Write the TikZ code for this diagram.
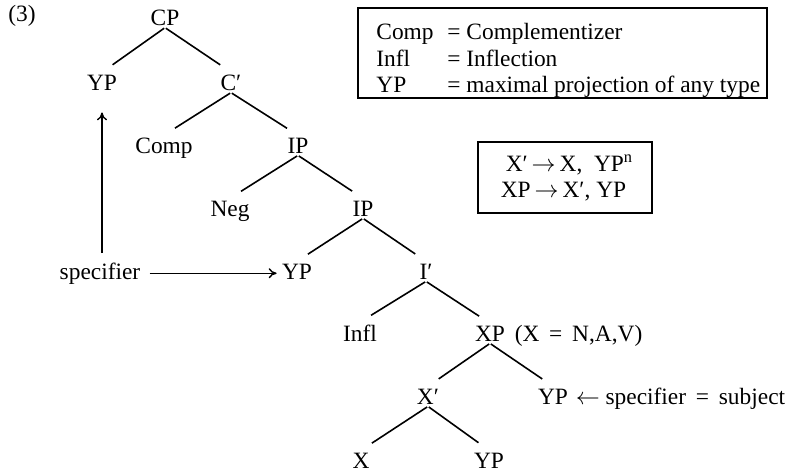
\documentclass[tikz,border=0pt]{standalone}
\usepackage{fontspec}
\setmainfont{Liberation Serif}
\usetikzlibrary{arrows.meta,positioning}

\begin{document}
\begin{tikzpicture}[x=0.5pt, y=-0.5pt,
    every node/.style={font=\fontsize{11.7}{13.25}\selectfont, inner sep=1pt},
    cat/.style={anchor=base},
    branch/.style={line width=0.8pt, shorten <=0.5pt, shorten >=6.5pt},
    pointer/.style={line width=0.7pt, -{To[length=4pt,width=5pt]}},
    rulebox/.style={draw, line width=0.6pt}]
  \useasboundingbox (0,0) rectangle (787,472);

  \node[anchor=base west] (exnum) at (6,21) {(3)};

  % the tree
  \node[cat] (cp)     at (165,25)  {CP};
  \node[cat] (ypcp)   at (102,90)  {YP};
  \node[cat] (cbar)   at (231,90)  {C′};
  \node[cat] (comp)   at (164,153) {Comp};
  \node[cat] (ipneg)  at (298,153) {IP};
  \node[cat] (neg)    at (230,216) {Neg};
  \node[cat] (ip)     at (363,216) {IP};
  \node[cat] (ypip)   at (297,279) {YP};
  \node[cat] (ibar)   at (426,279) {I′};
  \node[cat] (infl)   at (360,341) {Infl};
  \node[cat] (xp)     at (490,341) {XP};
  \node[cat] (xbar)   at (428,404) {X′};
  \node[cat] (ypxp)   at (553,404) {YP};
  \node[cat] (x)      at (361,468) {X};
  \node[cat] (ypcomp) at (489,468) {YP};

  \node[anchor=base west] (xpnote) at ([xshift=2.5pt]xp.base east) {(X\,~=~\,N,A,V)};
  \node[anchor=base west] (subjnote) at ([xshift=1.5pt]ypxp.base east) {$\leftarrow$ specifier\,~=~\,subject};

  \foreach \a/\b in {cp/ypcp, cp/cbar, cbar/comp, cbar/ipneg, ipneg/neg, ipneg/ip,
                     ip/ypip, ip/ibar, ibar/infl, ibar/xp, xp/xbar, xp/ypxp,
                     xbar/x, xbar/ypcomp} {
    \draw[branch] (\a.south) -- (\b.north);
  }

  % specifier arrows
  \node[cat] (spec) at (100,279) {specifier};
  \draw[pointer, shorten <=3.5pt, shorten >=10pt] (spec.north -| ypcp) -- (ypcp.south);
  \draw[pointer, shorten <=3.5pt, shorten >=1.5pt] (spec.east) -- (spec.east -| ypip.west);

  % boxes
  \node[rulebox, minimum width=204.5pt, minimum height=45pt] (gloss) at (562.5,53) {};
  \node[anchor=west, inner sep=0pt] (glosstext) at (376,61) {%
    \begin{tabular}{@{}p{35.5pt}@{}l@{}}
      Comp & = Complementizer\\
      Infl & = Inflection\\
      YP   & = maximal projection of any type
    \end{tabular}};

  \node[rulebox, minimum width=87pt, minimum height=35.5pt] (rules) at (565,177.5) {};
  \node[align=left, inner sep=0pt] (rulestext) at (567,178) {%
    \hspace{2.5pt}X′\,$\rightarrow$\,X,\ \ YP\textsuperscript{n}\\
    XP\,$\rightarrow$\,X′, YP};
\end{tikzpicture}
\end{document}
